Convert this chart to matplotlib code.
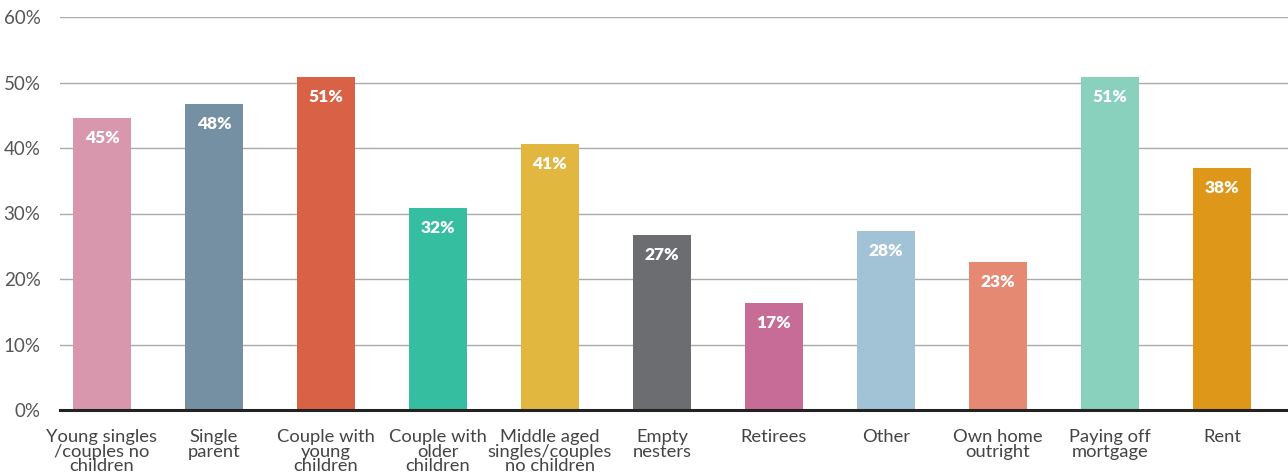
import matplotlib.pyplot as plt
from matplotlib.ticker import FuncFormatter

categories = [
    "Young singles\n/couples no\nchildren", "Single\nparent", "Couple with\nyoung\nchildren",
    "Couple with\nolder\nchildren", "Middle aged\nsingles/couples\nno children", "Empty\nnesters",
    "Retirees", "Other", "Own home\noutright", "Paying off\nmortgage", "Rent",
]
# bar heights as drawn, and the labels printed on them
values = [44.6, 46.7, 50.8, 30.8, 40.6, 26.7, 16.3, 27.3, 22.6, 50.8, 36.9]
labels = ["45%", "48%", "51%", "32%", "41%", "27%", "17%", "28%", "23%", "51%", "38%"]
colors = ["#D897AC", "#7490A2", "#D96146", "#35BE9F", "#E1B740", "#6C6D71",
          "#C66C96", "#A2C2D5", "#E68973", "#89D0BD", "#DE9719"]

plt.rcParams['font.family'] = ['Lato', 'DejaVu Sans']

fig = plt.figure(figsize=(12.88, 4.74), dpi=100)
ax = fig.add_axes([60 / 1288, 1 - 410 / 474, 1 - 60 / 1288, (410 - 17) / 474])

x = list(range(len(categories)))
ax.bar(x, values, width=0.52, color=colors, zorder=2)

for xi, v, lab in zip(x, values, labels):
    ax.annotate(lab, (xi, v), xytext=(0, -14.5), textcoords='offset points',
                ha='center', va='center', color='white', fontsize=12.5,
                fontweight='heavy', zorder=3)

ax.set_ylim(0, 60)
ax.set_xlim(-0.375, 10.59)
ax.set_yticks(range(0, 61, 10))
ax.yaxis.set_major_formatter(FuncFormatter(lambda v, p: f"{int(v)}%"))
ax.grid(axis='y', color='#aaaaaa', linewidth=1.0, zorder=0)
ax.set_xticks(x)
ax.set_xticklabels(categories, fontsize=13.2, color='#444444', linespacing=0.86)
ax.tick_params(axis='x', length=0, pad=14)
ax.tick_params(axis='y', length=0, pad=14, labelsize=13.5, labelcolor='#555555')

for side in ['top', 'right', 'left']:
    ax.spines[side].set_visible(False)
ax.spines['bottom'].set_color('#222222')
ax.spines['bottom'].set_linewidth(2.2)
ax.spines['bottom'].set_zorder(4)

fig.savefig("out.png", dpi=100)
